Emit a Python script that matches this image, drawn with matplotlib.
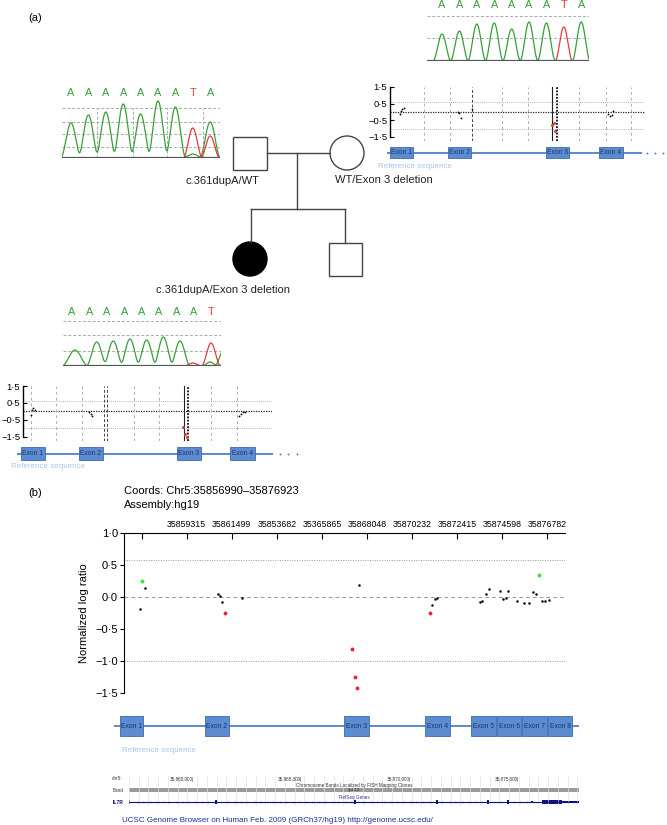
import numpy as np
import matplotlib
matplotlib.use("Agg")
import matplotlib.pyplot as plt
from matplotlib.patches import Rectangle, Circle

W, H = 667, 825
plt.rcParams["font.family"] = ["Liberation Sans", "DejaVu Sans"]

GREEN = "#36a036"
RED = "#e5393b"
EXON_FACE = "#5b8cd2"
EXON_EDGE = "#3c6ab0"
EXON_LINE = "#4f80c8"
REF_BLUE = "#a6c6ee"
GRID = "#aaaaaa"

# ---------------- data ----------------
# Sanger traces: base calls, peak positions (base index), peak heights, half widths
FATHER_CALLS = list("AAAAAAATA")
FATHER_GREEN_POS = [0, 1, 2, 3, 4, 5, 6, 7, 8]
FATHER_GREEN_H = [35, 43, 46, 54, 44, 57, 51, 4, 36]
FATHER_GREEN_W = [0.6] * 9
FATHER_RED_POS = [7, 8]
FATHER_RED_H = [30, 22]
FATHER_RED_W = [0.55, 0.55]

MOTHER_CALLS = list("AAAAAAATA")
MOTHER_GREEN_POS = [0, 1, 2, 3, 4, 5, 6, 8]
MOTHER_GREEN_H = [27, 30, 37, 38, 32, 39, 38, 39]
MOTHER_GREEN_W = [0.52] * 8
MOTHER_RED_POS = [7]
MOTHER_RED_H = [34]
MOTHER_RED_W = [0.5]

CHILD_CALLS = list("AAAAAAAAT")
CHILD_GREEN_POS = [0.17, 1.42, 2.37, 3.33, 4.29, 5.25, 6.21, 7.93, 8.75]
CHILD_GREEN_H = [16, 24, 25, 27, 26, 29, 25, 4, 17]
CHILD_GREEN_W = [0.75, 0.6, 0.58, 0.58, 0.58, 0.58, 0.58, 0.45, 0.55]
CHILD_RED_POS = [6.95, 7.99]
CHILD_RED_H = [3, 23]
CHILD_RED_W = [0.5, 0.55]

# small array-CGH plots (x = relative position along the region)
MOTHER_CGH_X = [10, 11, 12.3, 14, 67.7, 69.3, 71, 82.3, 218.3, 220, 221.7, 223.3]
MOTHER_CGH_Y = [-0.1, 0.04, 0.18, 0.22, 0.0, -0.08, -0.36, 0.2, -0.12, -0.26, -0.16, 0.04]
MOTHER_DEL_X = [162.3, 164, 165]
MOTHER_DEL_Y = [-0.76, -0.66, -1.16]
MOTHER_VLINES = {"gray": [34, 60, 112, 138, 189, 216, 241], "dark": [82],
                 "solid": [162], "dotted": [167]}

CHILD_CGH_X = [7.7, 9.3, 10.3, 11.7, 66, 67.7, 69.3, 216.3, 217.7, 219.7, 222]
CHILD_CGH_Y = [-0.24, 0.06, 0.22, 0.1, -0.04, -0.14, -0.28, -0.28, -0.14, -0.04, -0.02]
CHILD_DEL_X = [160.3, 162, 163.7]
CHILD_DEL_Y = [-0.94, -1.34, -1.5]
CHILD_VLINES = {"gray": [8, 33, 59, 111, 136, 188, 214], "dark": [81, 84],
                "solid": [161], "dotted": [165]}

MINI_EXON_NAMES = ["Exon 1", "Exon 2", "Exon 3", "Exon 4"]
MINI_EXON_START = [0, 58, 156, 209]
MINI_EXON_END = [23, 81, 179, 233]

MINI_TICKS = [1.5, 0.5, -0.5, -1.5]
MINI_TICK_LABELS = ["1\u00b75", "0\u00b75", "\u22120\u00b75", "\u22121\u00b75"]

# panel (b) array-CGH
B_TICKS = [35857132, 35859315, 35861499, 35863682, 35865865, 35868048,
           35870232, 35872415, 35874598, 35876782]
B_TICK_LABELS = ["", "35859315", "35861499", "35853682", "35365865", "35868048",
                 "35870232", "35872415", "35874598", "35876782"]
B_BLACK_POS = [35857072, 35857319, 35860841, 35860938, 35861030, 35861974, 35867666,
               35871207, 35871338, 35871454, 35873522, 35873600, 35873808, 35873939,
               35874467, 35874656, 35874787, 35874883, 35875295, 35875634, 35875881,
               35876070, 35876240, 35876521, 35876671, 35876860]
B_BLACK_LOGR = [-0.18, 0.145, 0.05, 0.02, -0.08, -0.01, 0.18,
                -0.12, -0.03, -0.01, -0.08, -0.06, 0.04, 0.13,
                0.10, -0.03, -0.02, 0.095, -0.06, -0.09, -0.09,
                0.08, 0.04, -0.06, -0.06, -0.04]
B_RED_POS = [35861180, 35867346, 35867477, 35867569, 35871115]
B_RED_LOGR = [-0.25, -0.81, -1.25, -1.42, -0.245]
B_GREEN_POS = [35857169, 35876390]
B_GREEN_LOGR = [0.25, 0.34]
B_YTICKS = [1.0, 0.5, 0.0, -0.5, -1.0, -1.5]
B_YTICK_LABELS = ["1\u00b70", "0\u00b75", "0\u00b70", "\u22120\u00b75", "\u22121\u00b70", "\u22121\u00b75"]

B_EXON_NAMES = ["Exon 1", "Exon 2", "Exon 3", "Exon 4", "Exon 5", "Exon 6", "Exon 7", "Exon 8"]
B_EXON_START = [35856074, 35860182, 35866930, 35870868, 35873091, 35874356, 35875576, 35876821]
B_EXON_END = [35857227, 35861349, 35868136, 35872055, 35874278, 35875504, 35876768, 35877989]
B_GENE_SPAN = [35855813, 35878308]

# UCSC browser snapshot
UCSC_TICKS = [35860000, 35865000, 35870000, 35875000]
UCSC_TICK_LABELS = ["35,860,000|", "35,865,000|", "35,870,000|", "35,875,000|"]
UCSC_EXON_START = [35857000, 35860970, 35867390, 35871180, 35873530, 35874450, 35875570, 35876067, 35876990]
UCSC_EXON_END = [35857060, 35861060, 35867480, 35871260, 35873620, 35874540, 35875640, 35876990, 35877775]
UCSC_EXON_HALF = [2.2, 2.2, 2.2, 2.2, 2.2, 2.2, 1.2, 2.2, 1.4]

fig = plt.figure(figsize=(W / 100, H / 100), dpi=100)


def px_axes(x0, y0, x1, y1):
    ax = fig.add_axes([x0 / W, 1 - y1 / H, (x1 - x0) / W, (y1 - y0) / H])
    ax.patch.set_visible(False)
    return ax


ov = px_axes(0, 0, W, H)
ov.set_xlim(0, W)
ov.set_ylim(H, 0)
ov.axis("off")


def trace(pos, heights, widths, xs):
    # each peak is a raised-cosine bump of the given half width
    y = np.zeros_like(xs)
    for p, h, w in zip(pos, heights, widths):
        d = np.abs(xs - p)
        y += np.where(d < w, h * np.cos(np.pi * d / (2 * w)) ** 2, 0.0)
    return y


def chromatogram(box, p0, calls, green, red, levels, vlines, letter_h):
    x0, ytop, x1, ybase = box
    ax = px_axes(x0, ytop, x1, ybase)
    step = 17.4
    lo, hi = (x0 - p0) / step, (x1 - p0) / step
    ax.set_xlim(lo, hi)
    ax.set_ylim(0, ybase - ytop)
    ax.axis("off")
    for lv in levels:
        ax.plot([lo, hi], [lv, lv], color=GRID, lw=0.7, ls=(0, (3, 2)))
    for v in vlines:
        ax.plot([v, v], [0, levels[0]], color=GRID, lw=0.7, ls=(0, (3, 2)))
    xs = np.linspace(lo, hi, 1200)
    ax.plot(xs, trace(*green, xs), color=GREEN, lw=0.9)
    yr = trace(*red, xs)
    yr = np.where(yr > 0.05, yr, np.nan)
    ax.plot(xs, yr, color=RED, lw=0.9)
    ax.plot([lo, hi], [0, 0], color="#555555", lw=1.6, solid_capstyle="butt")
    for i, c in enumerate(calls):
        ax.text(i, letter_h, c, color=RED if c == "T" else GREEN,
                ha="center", va="center", fontsize=7.8)


chromatogram((62, 86, 220, 158), 71, FATHER_CALLS,
             (FATHER_GREEN_POS, FATHER_GREEN_H, FATHER_GREEN_W),
             (FATHER_RED_POS, FATHER_RED_H, FATHER_RED_W),
             [50, 36, 24, 11], [1.49, 3.56, 5.52, 7.59], 65)
chromatogram((427, 0, 589, 61), 442, MOTHER_CALLS,
             (MOTHER_GREEN_POS, MOTHER_GREEN_H, MOTHER_GREEN_W),
             (MOTHER_RED_POS, MOTHER_RED_H, MOTHER_RED_W),
             [45, 23], [], 56)
chromatogram((63, 305, 221, 366), 72, CHILD_CALLS,
             (CHILD_GREEN_POS, CHILD_GREEN_H, CHILD_GREEN_W),
             (CHILD_RED_POS, CHILD_RED_H, CHILD_RED_W),
             [45, 31, 15], [], 54)


def mini_cgh(box, bx, by, rx, ry, vlines):
    x0, ytop, x1, ybot = box
    ax = px_axes(x0, ytop, x1, ybot)
    ax.set_xlim(0, x1 - x0)
    ax.set_ylim(-1.75, 1.5)
    for s in ["top", "right", "bottom"]:
        ax.spines[s].set_visible(False)
    ax.spines["left"].set_bounds(-1.5, 1.5)
    ax.spines["left"].set_linewidth(1.0)
    ax.set_xticks([])
    ax.set_yticks(MINI_TICKS)
    ax.set_yticklabels(MINI_TICK_LABELS, fontsize=6.8)
    ax.tick_params(axis="y", direction="in", length=3, width=0.8, pad=2)
    ax.axhline(0.6, color="#999999", lw=0.6, ls=(0, (1, 1.5)))
    ax.axhline(-1.0, color="#999999", lw=0.6, ls=(0, (1, 1.5)))
    ax.axhline(0.0, color="#222222", lw=0.9, ls=(0, (1, 1)))
    for v in vlines["gray"]:
        ax.axvline(v, color="#b0b0b0", lw=0.7, ls=(0, (3, 3)))
    for v in vlines["dark"]:
        ax.axvline(v, color="#444444", lw=0.7, ls=(0, (3, 2)))
    for v in vlines["solid"]:
        ax.axvline(v, color="#222222", lw=0.8)
    for v in vlines["dotted"]:
        ax.axvline(v, color="#111111", lw=1.3, ls=(0, (1, 0.8)))
    ax.plot(bx, by, "o", color="black", ms=1.3, mew=0)
    ax.plot(rx, ry, "o", color=RED, ms=2.2, mew=0)
    return ax


def exon_track(box, xlim, starts, ends, names, span, fs, more_dots=None):
    x0, ytop, x1, ybot = box
    ax = px_axes(x0, ytop, x1, ybot)
    ax.set_xlim(*xlim)
    ax.set_ylim(0, 1)
    ax.axis("off")
    ax.plot(span, [0.5, 0.5], color=EXON_LINE, lw=1.3, clip_on=False,
            solid_capstyle="butt")
    for s, e, n in zip(starts, ends, names):
        ax.add_patch(Rectangle((s, 0), e - s, 1, facecolor=EXON_FACE,
                               edgecolor=EXON_EDGE, lw=0.6, clip_on=False, zorder=3))
        ax.text((s + e) / 2, 0.5, n, ha="center", va="center", fontsize=fs,
                color="#1e3560", zorder=4, clip_on=False)
    if more_dots is not None:
        ax.plot(more_dots, [0.5] * len(more_dots), "o", color=EXON_LINE, ms=1.4,
                mew=0, clip_on=False)
    return ax


# mother (top right)
mini_cgh((390, 87, 645, 141), MOTHER_CGH_X, MOTHER_CGH_Y, MOTHER_DEL_X, MOTHER_DEL_Y,
         MOTHER_VLINES)
exon_track((390, 147, 645, 158), (0, 255), MINI_EXON_START, MINI_EXON_END,
           MINI_EXON_NAMES, [-3, 252], 4.9, [257, 265, 273])
ov.text(378, 167, "Reference sequence", color=REF_BLUE, fontsize=5.8, va="center")

# child (bottom left)
mini_cgh((23, 386, 272, 441), CHILD_CGH_X, CHILD_CGH_Y, CHILD_DEL_X, CHILD_DEL_Y,
         CHILD_VLINES)
exon_track((23, 447, 272, 460), (0, 249), [s - 2 for s in MINI_EXON_START],
           [e - 1 for e in MINI_EXON_END], MINI_EXON_NAMES, [-6, 250], 4.9,
           [257, 265, 274])
ov.text(11, 467, "Reference sequence", color=REF_BLUE, fontsize=5.8, va="center")

# pedigree
PED = "#444444"
ov.add_patch(Rectangle((233, 137), 34, 33, fill=False, ec=PED, lw=1.0))
ov.add_patch(Circle((347, 153), 17, fill=False, ec=PED, lw=1.0))
ov.plot([267, 330], [153, 153], color=PED, lw=1.0)
ov.plot([297, 297], [153, 209], color=PED, lw=1.0)
ov.plot([251, 345], [209, 209], color=PED, lw=1.0)
ov.plot([251, 251], [209, 242], color=PED, lw=1.0)
ov.plot([345, 345], [209, 243], color=PED, lw=1.0)
ov.add_patch(Circle((250, 259), 17, fc="black", ec="black", lw=1.0))
ov.add_patch(Rectangle((329, 243), 33, 33, fill=False, ec=PED, lw=1.0))
ov.text(222, 181, "c.361dupA/WT", ha="center", va="center", fontsize=8, color="#222222")
ov.text(384, 180, "WT/Exon 3 deletion", ha="center", va="center", fontsize=8, color="#222222")
ov.text(223, 290, "c.361dupA/Exon 3 deletion", ha="center", va="center", fontsize=8,
        color="#222222")

ov.text(35, 18, "(a)", ha="center", va="center", fontsize=8)
ov.text(35, 493, "(b)", ha="center", va="center", fontsize=8)

# panel (b)
ov.text(124, 491, "Coords: Chr5:35856990\u201335876923", va="center", fontsize=8)
ov.text(124, 505, "Assembly:hg19", va="center", fontsize=8)

B_XLIM = (35856284, 35877634)
axb = px_axes(124, 533, 565, 693)
axb.set_xlim(*B_XLIM)
axb.set_ylim(-1.5, 1.0)
axb.spines["right"].set_visible(False)
axb.spines["bottom"].set_visible(False)
axb.xaxis.set_ticks_position("top")
axb.set_xticks(B_TICKS)
axb.set_xticklabels(B_TICK_LABELS, fontsize=6.3)
axb.tick_params(axis="x", direction="in", length=4, width=0.8, pad=3)
axb.set_yticks(B_YTICKS)
axb.set_yticklabels(B_YTICK_LABELS, fontsize=8)
axb.tick_params(axis="y", direction="out", length=3, width=0.8, pad=1.5)
axb.axhline(0.58, color="#999999", lw=0.7, ls=(0, (1, 1.5)))
axb.axhline(-1.0, color="#999999", lw=0.7, ls=(0, (1, 1.5)))
axb.axhline(0.0, color="#999999", lw=0.7, ls=(0, (4, 3)))
axb.plot(B_BLACK_POS, B_BLACK_LOGR, "o", color="black", ms=1.8, mew=0)
axb.plot(B_RED_POS, B_RED_LOGR, "o", color="#e8262b", ms=2.8, mew=0, clip_on=False)
axb.plot(B_GREEN_POS, B_GREEN_LOGR, "o", color="#3be03b", ms=2.8, mew=0)
axb.set_ylabel("Normalized log ratio", fontsize=8)
axb.yaxis.set_label_coords(-0.079, 0.5)

exon_track((124, 716, 565, 736), B_XLIM, B_EXON_START, B_EXON_END, B_EXON_NAMES,
           B_GENE_SPAN, 4.9)
ov.text(122, 751, "Reference sequence", color=REF_BLUE, fontsize=5.8, va="center")

# UCSC snapshot
UCSC_XLIM = (35857000, 35877775)
axu = px_axes(129, 774, 579, 806)
axu.set_xlim(*UCSC_XLIM)
axu.set_ylim(32, 0)
axu.axis("off")
for g in np.arange(35857000, 35877775, 450):
    axu.plot([g, g], [2, 32], color="#dde2f2", lw=0.5)
for t, lab in zip(UCSC_TICKS, UCSC_TICK_LABELS):
    axu.text(t, 5, lab, ha="right", va="center", fontsize=3.3, color="#333333")
mid = sum(UCSC_XLIM) / 2
axu.text(mid, 11, "Chromosome Bands Localized by FISH Mapping Clones", ha="center",
         va="center", fontsize=3.3, color="#333333")
axu.add_patch(Rectangle((UCSC_XLIM[0], 13.5), UCSC_XLIM[1] - UCSC_XLIM[0], 4.3,
                        fc="#9a9a9a", ec="none"))
axu.text(mid, 15.6, "5p13.2", ha="center", va="center", fontsize=3, color="#222222")
axu.text(mid, 23, "RefSeq Genes", ha="center", va="center", fontsize=3.3, color="#333399")
axu.plot(UCSC_XLIM, [28, 28], color="#101080", lw=0.8)
arrows = np.arange(35857400, 35876000, 300)
axu.plot(arrows, [28] * len(arrows), ">", color="#101080", ms=1.3, mew=0)
for s, e, hh in zip(UCSC_EXON_START, UCSC_EXON_END, UCSC_EXON_HALF):
    axu.add_patch(Rectangle((s, 28 - hh), max(e - s, 60), 2 * hh, fc="#101080", ec="none"))
ov.text(112, 779, "chr5:", fontsize=3.3, va="center", color="#333333")
ov.text(113, 790, "Band", fontsize=3.3, va="center", color="#333333")
ov.text(113, 802, "IL7R", fontsize=3.6, va="center", color="#101080", fontweight="bold")
ov.text(122, 820, "UCSC Genome Browser on Human Feb. 2009 (GRCh37/hg19) http://genome.ucsc.edu/",
        fontsize=5.8, va="center", color="#1f2e99")

fig.savefig("out.png", dpi=100)
